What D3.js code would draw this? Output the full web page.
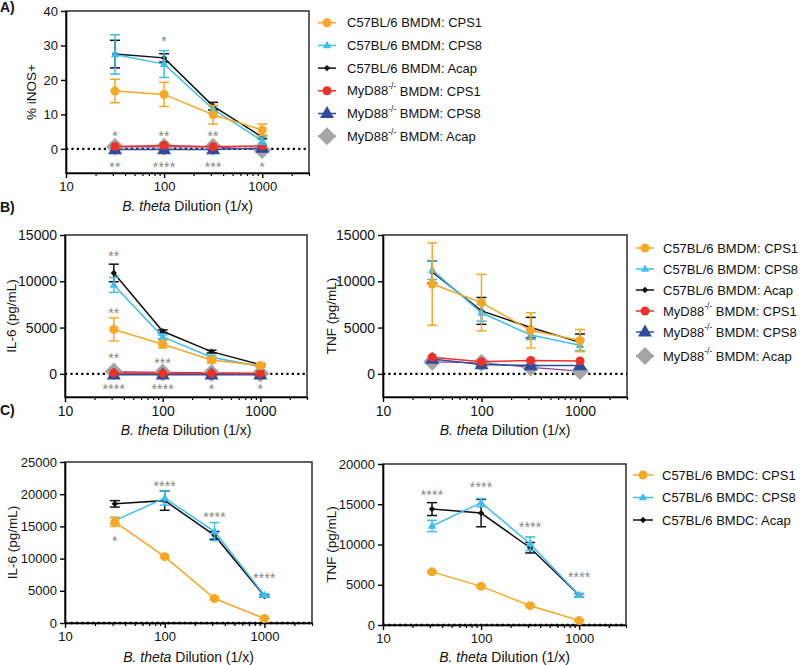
<!DOCTYPE html>
<html>
<head>
<meta charset="utf-8">
<script src="https://cdn.jsdelivr.net/npm/d3@7"></script>
<style>
  body { margin: 0; background: #fff; }
  svg { font-family: "Liberation Sans", Arial, Helvetica, sans-serif; }
</style>
</head>
<body>
<svg id="fig" width="800" height="665"></svg>
<script>
// ---- data ----
const dilutions = [31.6, 100, 316, 1000];
const xTickVals = [10, 100, 1000];

// A) % iNOS+
const inosCps1 = [16.8, 15.8, 9.9, 5.5];
const inosCps1Err = [3.4, 3.5, 2.7, 1.7];
const inosCps8 = [27.4, 24.6, 11.5, 2.3];
const inosCps8Err = [5.7, 3.9, 1.0, 1.0];
const inosAcap = [27.5, 26.4, 12.4, 3.4];
const inosAcapErr = [4.0, 1.2, 1.1, 0.5];
const inosKoCps1 = [0.7, 1.0, 0.6, 0.9];
const inosKoCps8 = [-0.2, -0.2, -0.2, 0.2];
const inosKoAcap = [0.6, 0.6, 0.6, -0.3];
const inosTicks = [0, 10, 20, 30, 40];
const inosStars = [
  { x: 100, y: 32.3, t: "*" },
  { x: 31.6, y: 4.7, t: "*" }, { x: 100, y: 4.7, t: "**" }, { x: 316, y: 4.7, t: "**" },
  { x: 31.6, y: -4.4, t: "**" }, { x: 100, y: -4.4, t: "****" },
  { x: 316, y: -4.4, t: "***" }, { x: 1000, y: -4.4, t: "*" },
];

// B) BMDM IL-6
const il6Cps1 = [4800, 3200, 1500, 900];
const il6Cps1Err = [1250, 400, 300, 150];
const il6Cps8 = [9600, 4000, 1800, 800];
const il6Cps8Err = [800, 200, 200, 100];
const il6Acap = [10900, 4600, 2400, 1000];
const il6AcapErr = [950, 150, 150, 100];
const il6KoCps1 = [100, 50, 50, 50];
const il6KoCps8 = [-100, -100, -100, -100];
const il6KoAcap = [250, 150, 100, 50];
const il6Stars = [
  { x: 31.6, y: 13070, t: "**" }, { x: 31.6, y: 6940, t: "**" },
  { x: 31.6, y: 2080, t: "**" }, { x: 100, y: 1540, t: "***" },
  { x: 31.6, y: -1340, t: "****" }, { x: 100, y: -1340, t: "****" },
  { x: 316, y: -1340, t: "*" }, { x: 1000, y: -1340, t: "*" },
];

// B) BMDM TNF
const tnfCps1 = [9700, 7700, 4700, 3600];
const tnfCps1Err = [4450, 3050, 1900, 1200];
const tnfCps8 = [11200, 6600, 4200, 3100];
const tnfCps8Err = [1000, 900, 500, 600];
const tnfAcap = [11000, 6800, 5000, 3400];
const tnfAcapErr = [1200, 1450, 1100, 900];
const tnfKoCps1 = [1800, 1300, 1450, 1400];
const tnfKoCps8 = [1600, 1000, 900, 900];
const tnfKoAcap = [1300, 1200, 700, 300];
const bmdmTicks = [0, 5000, 10000, 15000];

// C) BMDC IL-6
const dcIl6Cps1 = [15700, 10300, 3800, 700];
const dcIl6Cps1Err = [700, 250, 200, 100];
const dcIl6Cps8 = [15900, 19400, 14200, 4300];
const dcIl6Cps8Err = [500, 1100, 1400, 200];
const dcIl6Acap = [18500, 19000, 13600, 4200];
const dcIl6AcapErr = [500, 1500, 600, 200];
const dcIl6Ticks = [0, 5000, 10000, 15000, 20000, 25000];
const dcIl6Stars = [
  { x: 31.6, y: 13260, t: "*" }, { x: 100, y: 21800, t: "****" },
  { x: 316, y: 17000, t: "****" }, { x: 1000, y: 7400, t: "****" },
];

// C) BMDC TNF
const dcTnfCps1 = [6600, 4800, 2400, 550];
const dcTnfCps1Err = [150, 150, 100, 50];
const dcTnfCps8 = [12300, 15200, 10100, 3700];
const dcTnfCps8Err = [700, 500, 850, 200];
const dcTnfAcap = [14400, 13900, 9600, 3700];
const dcTnfAcapErr = [800, 1700, 650, 200];
const dcTnfTicks = [0, 5000, 10000, 15000, 20000];
const dcTnfStars = [
  { x: 31.6, y: 16530, t: "****" }, { x: 100, y: 17480, t: "****" },
  { x: 316, y: 12600, t: "****" }, { x: 1000, y: 6400, t: "****" },
];

const bmdmLabels = [
  "C57BL/6 BMDM: CPS1", "C57BL/6 BMDM: CPS8", "C57BL/6 BMDM: Acap",
  "MyD88-/- BMDM: CPS1", "MyD88-/- BMDM: CPS8", "MyD88-/- BMDM: Acap",
];
const bmdcLabels = ["C57BL/6 BMDC: CPS1", "C57BL/6 BMDC: CPS8", "C57BL/6 BMDC: Acap"];

// ---- styles ----
const ST = {
  wt1: { color: "#F7A823", shape: "circle", size: 4.5 },
  wt8: { color: "#3DBFEE", shape: "triangle", size: 8.5 },
  wtA: { color: "#111111", shape: "diamond", size: 3.2 },
  ko1: { color: "#EC3127", shape: "circle", size: 4.5 },
  ko8: { color: "#2E4B9E", shape: "triangle", size: 14 },
  koA: { color: "#A5A5A5", line: "#8E3C96", shape: "diamond", size: 9 },
};

const svg = d3.select("#fig");

function markerPath(shape, s) {
  if (shape === "circle") return d3.symbol(d3.symbolCircle, Math.PI * s * s)();
  if (shape === "triangle") {
    const h = (s * Math.sqrt(3)) / 2;
    return `M0,${-h * 0.62}L${s / 2},${h * 0.38}L${-s / 2},${h * 0.38}Z`;
  }
  return `M0,${-s}L${s},0L0,${s}L${-s},0Z`;
}

function drawPanel(cfg) {
  const x = d3.scaleLog().domain([10, 3000]).range([cfg.left, cfg.right]);
  const y = d3.scaleLinear().domain(cfg.yDomain).range([cfg.bottom, cfg.top]);
  const g = svg.append("g");

  // frame
  g.append("rect")
    .attr("x", cfg.left).attr("y", cfg.top)
    .attr("width", cfg.right - cfg.left).attr("height", cfg.bottom - cfg.top)
    .attr("fill", "none").attr("stroke", "#3a3a3a").attr("stroke-width", 1.6);

  // x axis
  const minor = x.ticks().filter((v) => !xTickVals.includes(v));
  g.append("g")
    .attr("transform", `translate(0,${cfg.bottom})`)
    .call(d3.axisBottom(x).tickValues(minor).tickSize(3).tickSizeOuter(0).tickFormat(""))
    .call((a) => a.select(".domain").remove())
    .selectAll("line").attr("stroke-width", 1.2);
  const xa = g.append("g")
    .attr("transform", `translate(0,${cfg.bottom})`)
    .call(d3.axisBottom(x).tickValues(xTickVals).tickSize(5).tickSizeOuter(0)
      .tickPadding(4).tickFormat(d3.format("d")));
  xa.select(".domain").attr("stroke-width", 1.5);
  xa.selectAll("line").attr("stroke-width", 1.4);
  xa.selectAll("text").attr("font-size", cfg.tickFont).attr("fill", "#111");

  // y axis
  const ya = g.append("g")
    .attr("transform", `translate(${cfg.left},0)`)
    .call(d3.axisLeft(y).tickValues(cfg.yTicks).tickSize(5).tickSizeOuter(0)
      .tickPadding(3).tickFormat(d3.format("d")));
  ya.select(".domain").attr("stroke-width", 1.6);
  ya.selectAll("line").attr("stroke-width", 1.4);
  ya.selectAll("text").attr("font-size", cfg.tickFont).attr("fill", "#111");

  // dotted zero line
  g.append("line")
    .attr("x1", cfg.left).attr("x2", cfg.right)
    .attr("y1", y(0)).attr("y2", y(0))
    .attr("stroke", "#000").attr("stroke-width", 2.4)
    .attr("stroke-dasharray", "2.2,3.2");

  // series, drawn last legend entry first
  cfg.series.slice().reverse().forEach((s) => {
    const pts = dilutions.map((d, i) => ({ d, v: s.values[i], e: s.err ? s.err[i] : 0 }));
    g.append("path")
      .datum(pts)
      .attr("fill", "none")
      .attr("stroke", s.style.line || s.style.color)
      .attr("stroke-width", s.style.line ? 1.2 : 1.5)
      .attr("d", d3.line().x((p) => x(p.d)).y((p) => y(p.v)));
    if (s.err) {
      const eb = g.append("g").attr("stroke", s.style.color).attr("stroke-width", 1.5);
      pts.forEach((p) => {
        const cx = x(p.d);
        eb.append("line").attr("x1", cx).attr("x2", cx).attr("y1", y(p.v - p.e)).attr("y2", y(p.v + p.e));
        [p.v - p.e, p.v + p.e].forEach((v) => {
          eb.append("line").attr("x1", cx - 5).attr("x2", cx + 5).attr("y1", y(v)).attr("y2", y(v));
        });
      });
    }
    g.selectAll(null)
      .data(pts)
      .join("path")
      .attr("transform", (p) => `translate(${x(p.d)},${y(p.v)})`)
      .attr("d", markerPath(s.style.shape, s.style.size))
      .attr("fill", s.style.color);
  });

  // significance stars
  g.selectAll(null)
    .data(cfg.stars || [])
    .join("text")
    .attr("x", (d) => x(d.x))
    .attr("y", (d) => y(d.y))
    .attr("dy", "0.58em")
    .attr("text-anchor", "middle")
    .attr("font-size", 14)
    .attr("letter-spacing", 0.2)
    .attr("fill", "#858585")
    .text((d) => d.t);

  // axis titles
  const midX = (cfg.left + cfg.right) / 2;
  const xt = g.append("text")
    .attr("x", midX).attr("y", cfg.xTitleY)
    .attr("text-anchor", "middle").attr("font-size", 14).attr("fill", "#111");
  xt.append("tspan").attr("font-style", "italic").text("B. theta");
  xt.append("tspan").text(" Dilution (1/x)");

  g.append("text")
    .attr("transform", `translate(${cfg.yTitleX},${(cfg.top + cfg.bottom) / 2}) rotate(-90)`)
    .attr("text-anchor", "middle").attr("font-size", 13.5).attr("fill", "#111")
    .text(cfg.yTitle);
}

function drawLegend(items, labels, x0, x1, tx, rowY) {
  const g = svg.append("g");
  items.forEach((st, i) => {
    const yy = rowY[i];
    g.append("line").attr("x1", x0).attr("x2", x1).attr("y1", yy).attr("y2", yy)
      .attr("stroke", st.line || st.color).attr("stroke-width", 1.5);
    g.append("path")
      .attr("transform", `translate(${(x0 + x1) / 2},${yy})`)
      .attr("d", markerPath(st.shape, st.size))
      .attr("fill", st.color);
    const t = g.append("text").attr("x", tx).attr("y", yy).attr("dy", "0.36em")
      .attr("font-size", 13).attr("fill", "#111");
    const parts = labels[i].split("-/-");
    if (parts.length > 1) {
      t.append("tspan").text(parts[0]);
      t.append("tspan").attr("font-size", 8.5).attr("dy", "-0.75em").text("-/-");
      t.append("tspan").attr("dy", "0.5em").text(parts[1]);
    } else {
      t.text(labels[i]);
    }
  });
}

const bmdmStyles = [ST.wt1, ST.wt8, ST.wtA, ST.ko1, ST.ko8, ST.koA];

drawPanel({
  left: 66, right: 309, top: 11, bottom: 173,
  yDomain: [-7, 40], yTicks: inosTicks, tickFont: 13,
  xTitleY: 211, yTitle: "% iNOS+", yTitleX: 36,
  stars: inosStars,
  series: [
    { values: inosCps1, err: inosCps1Err, style: ST.wt1 },
    { values: inosCps8, err: inosCps8Err, style: ST.wt8 },
    { values: inosAcap, err: inosAcapErr, style: ST.wtA },
    { values: inosKoCps1, style: ST.ko1 },
    { values: inosKoCps8, style: ST.ko8 },
    { values: inosKoAcap, style: ST.koA },
  ],
});

drawPanel({
  left: 65, right: 307, top: 235, bottom: 397,
  yDomain: [-2500, 15000], yTicks: bmdmTicks, tickFont: 14,
  xTitleY: 435, yTitle: "IL-6 (pg/mL)", yTitleX: 16,
  stars: il6Stars,
  series: [
    { values: il6Cps1, err: il6Cps1Err, style: ST.wt1 },
    { values: il6Cps8, err: il6Cps8Err, style: ST.wt8 },
    { values: il6Acap, err: il6AcapErr, style: ST.wtA },
    { values: il6KoCps1, style: ST.ko1 },
    { values: il6KoCps8, style: ST.ko8 },
    { values: il6KoAcap, style: ST.koA },
  ],
});

drawPanel({
  left: 383, right: 627, top: 235, bottom: 397,
  yDomain: [-2500, 15000], yTicks: bmdmTicks, tickFont: 14,
  xTitleY: 435, yTitle: "TNF (pg/mL)", yTitleX: 336,
  series: [
    { values: tnfCps1, err: tnfCps1Err, style: ST.wt1 },
    { values: tnfCps8, err: tnfCps8Err, style: ST.wt8 },
    { values: tnfAcap, err: tnfAcapErr, style: ST.wtA },
    { values: tnfKoCps1, style: ST.ko1 },
    { values: tnfKoCps8, style: ST.ko8 },
    { values: tnfKoAcap, style: ST.koA },
  ],
});

drawPanel({
  left: 65, right: 312, top: 462, bottom: 623,
  yDomain: [0, 25000], yTicks: dcIl6Ticks, tickFont: 13,
  xTitleY: 662, yTitle: "IL-6 (pg/mL)", yTitleX: 17,
  stars: dcIl6Stars,
  series: [
    { values: dcIl6Cps1, err: dcIl6Cps1Err, style: ST.wt1 },
    { values: dcIl6Cps8, err: dcIl6Cps8Err, style: ST.wt8 },
    { values: dcIl6Acap, err: dcIl6AcapErr, style: ST.wtA },
  ],
});

drawPanel({
  left: 383, right: 626, top: 464, bottom: 625,
  yDomain: [0, 20000], yTicks: dcTnfTicks, tickFont: 13,
  xTitleY: 662, yTitle: "TNF (pg/mL)", yTitleX: 336,
  stars: dcTnfStars,
  series: [
    { values: dcTnfCps1, err: dcTnfCps1Err, style: ST.wt1 },
    { values: dcTnfCps8, err: dcTnfCps8Err, style: ST.wt8 },
    { values: dcTnfAcap, err: dcTnfAcapErr, style: ST.wtA },
  ],
});

// legends
drawLegend(bmdmStyles, bmdmLabels, 318, 336, 347, bmdmLabels.map((_, i) => 22.7 + i * 22.7));
drawLegend(bmdmStyles, bmdmLabels, 636, 654, 663,
  bmdmLabels.map((_, i) => 248 + i * 21 + (i === 5 ? 3 : 0)));
drawLegend([ST.wt1, ST.wt8, ST.wtA], bmdcLabels, 633, 653, 662,
  bmdcLabels.map((_, i) => 475 + i * 22.5));

// panel letters
[["A)", 12], ["B)", 212], ["C)", 415]].forEach(([t, yy]) => {
  svg.append("text").attr("x", 0).attr("y", yy)
    .attr("font-size", 14).attr("font-weight", "bold").attr("fill", "#111").text(t);
});
</script>
</body>
</html>
